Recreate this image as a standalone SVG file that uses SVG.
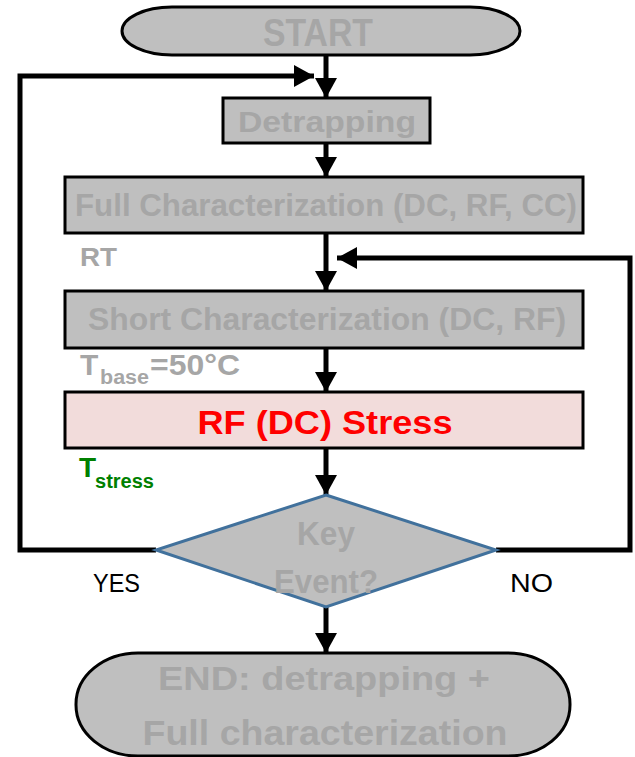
<svg xmlns="http://www.w3.org/2000/svg" width="635" height="757" viewBox="0 0 635 757">
  <defs>
    <style>
      .box { fill: #bfbfbf; stroke: #000; stroke-width: 3; }
      .stress { fill: #f2dcdb; stroke: #000; stroke-width: 3; }
      .diamond { fill: #bfbfbf; stroke: #41719c; stroke-width: 3; }
      .lbl { font-family: "Liberation Sans", Arial, sans-serif; font-weight: bold; fill: #a6a6a6; }
      .ctr { text-anchor: middle; }
      .yn { font-family: "Liberation Sans", Arial, sans-serif; font-size: 26px; fill: #000; }
      .wire { fill: none; stroke: #000; stroke-width: 5; }
    </style>
    <marker id="arrow" markerUnits="userSpaceOnUse" markerWidth="24" markerHeight="24" viewBox="0 0 24 24" refX="22" refY="12" orient="auto">
      <path d="M2,1 L22,12 L2,23 Z" fill="#000"/>
    </marker>
  </defs>

  <!-- connectors -->
  <g id="connectors">
    <line class="wire" x1="326" y1="55" x2="326" y2="98" marker-end="url(#arrow)"/>
    <line class="wire" x1="326" y1="143" x2="326" y2="177" marker-end="url(#arrow)"/>
    <line class="wire" x1="326" y1="233" x2="326" y2="291" marker-end="url(#arrow)"/>
    <line class="wire" x1="326" y1="348" x2="326" y2="392" marker-end="url(#arrow)"/>
    <line class="wire" x1="326" y1="448" x2="326" y2="495" marker-end="url(#arrow)"/>
    <line class="wire" x1="326" y1="607" x2="326" y2="653" marker-end="url(#arrow)"/>
    <!-- YES loop back to detrapping -->
    <polyline class="wire" points="156,550 20,550 20,76 314,76" marker-end="url(#arrow)"/>
    <!-- NO loop back to short characterization -->
    <polyline class="wire" points="496,550 630,550 630,258 337,258" marker-end="url(#arrow)"/>
  </g>

  <g id="start">
    <rect class="box" x="122" y="7" width="398" height="48" rx="50" ry="24"/>
    <text class="lbl ctr" x="318" y="46" font-size="38" textLength="110" lengthAdjust="spacingAndGlyphs">START</text>
  </g>

  <g id="detrapping">
    <rect class="box" x="223" y="98" width="207" height="45"/>
    <text class="lbl ctr" x="327" y="132" font-size="30" textLength="178" lengthAdjust="spacingAndGlyphs">Detrapping</text>
  </g>

  <g id="full-char">
    <rect class="box" x="65" y="177" width="518" height="56"/>
    <text class="lbl ctr" x="326" y="216" font-size="32" textLength="502" lengthAdjust="spacingAndGlyphs">Full Characterization (DC, RF, CC)</text>
    <text class="lbl" x="80" y="266" font-size="26" textLength="37" lengthAdjust="spacingAndGlyphs">RT</text>
  </g>

  <g id="short-char">
    <rect class="box" x="65" y="291" width="518" height="57"/>
    <text class="lbl ctr" x="327" y="330" font-size="31" textLength="478" lengthAdjust="spacingAndGlyphs">Short Characterization (DC, RF)</text>
    <text class="lbl" x="80" y="375" font-size="30">T<tspan x="100" y="384" font-size="20" textLength="49" lengthAdjust="spacingAndGlyphs">base</tspan><tspan x="150" y="375" textLength="90" lengthAdjust="spacingAndGlyphs">=50°C</tspan></text>
  </g>

  <g id="stress">
    <rect class="stress" x="65" y="392" width="518" height="56"/>
    <text class="ctr" x="325" y="434" font-family="Liberation Sans, Arial, sans-serif" font-weight="bold" font-size="33" fill="#ff0000" textLength="255" lengthAdjust="spacingAndGlyphs">RF (DC) Stress</text>
    <text x="79" y="477" font-family="Liberation Sans, Arial, sans-serif" font-weight="bold" font-size="28" fill="#008000">T<tspan x="95" y="488" font-size="20" textLength="59" lengthAdjust="spacingAndGlyphs">stress</tspan></text>
  </g>

  <g id="key-event">
    <polygon class="diamond" points="326,495 496,550 326,607 156,550"/>
    <text class="lbl ctr" x="326" y="545" font-size="33" textLength="58" lengthAdjust="spacingAndGlyphs">Key</text>
    <text class="lbl ctr" x="326" y="593" font-size="33" textLength="104" lengthAdjust="spacingAndGlyphs">Event?</text>
    <text class="yn" x="93" y="592" textLength="47" lengthAdjust="spacingAndGlyphs">YES</text>
    <text class="yn" x="510" y="592" textLength="43" lengthAdjust="spacingAndGlyphs">NO</text>
  </g>

  <g id="end">
    <rect class="box" x="76" y="653" width="494" height="103" rx="62" ry="51"/>
    <text class="lbl ctr" x="324" y="690" font-size="33" textLength="332" lengthAdjust="spacingAndGlyphs">END: detrapping +</text>
    <text class="lbl ctr" x="325" y="745" font-size="35" textLength="365" lengthAdjust="spacingAndGlyphs">Full characterization</text>
  </g>
</svg>
